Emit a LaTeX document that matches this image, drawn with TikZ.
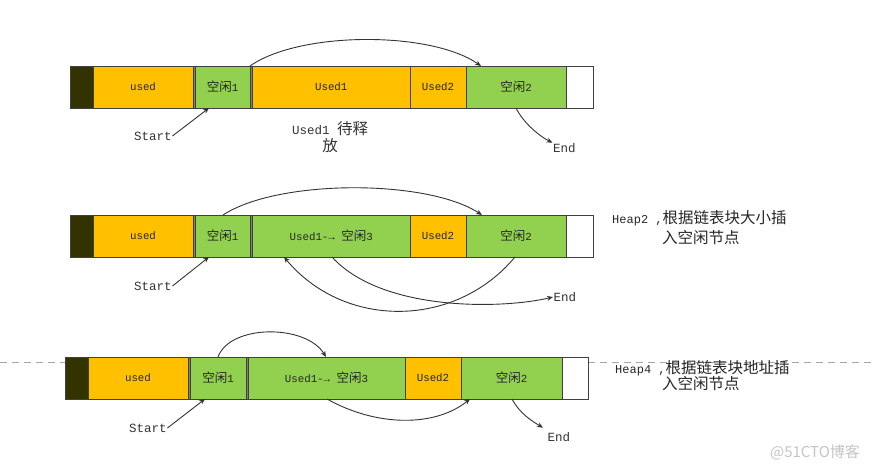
\documentclass[tikz,border=0pt]{standalone}
\usepackage{fontspec}
\setmonofont{Liberation Mono}
\newfontfamily\cjk{Noto Sans CJK SC}
\usetikzlibrary{arrows.meta,calc}
\definecolor{dk}{HTML}{333300}
\definecolor{og}{HTML}{FFC000}
\definecolor{gn}{HTML}{92D050}
\definecolor{bd}{HTML}{404040}
\definecolor{sepg}{HTML}{808080}
\definecolor{ln}{HTML}{333333}
\definecolor{wm}{HTML}{C4C4C4}
\definecolor{dsh}{HTML}{A6A6A6}
\newcommand\zhs[1]{{\cjk\fontsize{12.5}{17}\selectfont #1}}
\newcommand\zhl[1]{{\cjk\fontsize{15.5}{17}\selectfont #1}}
\tikzset{
  cell/.style={draw=bd, line width=1pt, inner sep=0pt, outer sep=0pt, anchor=north west,
    minimum height=42pt, font=\ttfamily\fontsize{10.8}{13}\selectfont, text=black!85},
  sepcell/.style={cell, fill=sepg, draw=bd, line width=0.4pt},
  lbl/.style={font=\ttfamily\fontsize{12.5}{17}\selectfont, inner sep=0.5pt, text=ln},
  note/.style={font=\ttfamily\fontsize{12}{17}\selectfont, inner sep=0pt, anchor=west, text=black!85},
  arr/.style={draw=ln, line width=0.9pt, -{Stealth[length=6pt,width=5pt]}},
}
\begin{document}
\begin{tikzpicture}[x=1pt,y=-1pt]
\useasboundingbox (0,0) rectangle (875,471);
% dashed separator behind row 3
\coordinate (dl) at (0,362);
\coordinate (dr) at (875,362);
\draw[dsh, line width=0.8pt, dash pattern=on 7pt off 5pt] (dl) -- (dr);

% ---------- row 1 ----------
\node[cell,fill=dk,minimum width=23pt]  (a0) at (70,66) {};
\node[cell,fill=og,minimum width=100pt] (a1) at (93,66) {used};
\node[sepcell,minimum width=2pt]        (a2) at (193,66) {};
\node[cell,fill=gn,minimum width=55pt]  (a3) at (195,66) {\zhs{空闲}1};
\node[sepcell,minimum width=2.5pt]      (a4) at (250,66) {};
\node[cell,fill=og,minimum width=157.5pt] (a5) at (252.5,66) {Used1};
\node[cell,fill=og,minimum width=56pt]  (a6) at (410,66) {Used2};
\node[cell,fill=gn,minimum width=100pt] (a7) at (466,66) {\zhs{空闲}2};
\node[cell,fill=white,minimum width=27pt] (a8) at (566,66) {};

\node[lbl] (s1) at (153,136) {Start};
\node[lbl,align=center] (u1) at (330,137) {Used1 \zhl{待释}\\\zhl{放}};
\node[lbl,anchor=west] (e1) at (552.5,148) {End};

\draw[arr] (a3.north east) .. controls +(50,-35) and +(-50,-35) .. ([xshift=15pt]a7.north west);
\draw[arr] (s1.east) -- ([xshift=14pt]a3.south west);
\draw[arr] ([xshift=50pt]a7.south west) .. controls +(8,16) and +(-12,-6) .. (e1.north west);

% ---------- row 2 ----------
\node[cell,fill=dk,minimum width=23pt]  (b0) at (70,215) {};
\node[cell,fill=og,minimum width=100pt] (b1) at (93,215) {used};
\node[sepcell,minimum width=2pt]        (b2) at (193,215) {};
\node[cell,fill=gn,minimum width=55pt]  (b3) at (195,215) {\zhs{空闲}1};
\node[sepcell,minimum width=2.5pt]      (b4) at (250,215) {};
\node[cell,fill=gn,minimum width=157.5pt] (b5) at (252.5,215) {Used1-→ \zhs{空闲}3};
\node[cell,fill=og,minimum width=56pt]  (b6) at (410,215) {Used2};
\node[cell,fill=gn,minimum width=100pt] (b7) at (466,215) {\zhs{空闲}2};
\node[cell,fill=white,minimum width=27pt] (b8) at (566,215) {};

\node[lbl] (s2) at (153,286) {Start};
\node[lbl,anchor=west] (e2) at (553,297) {End};
\node[note] (h2a) at (612,218) {Heap2 ,\zhl{根据链表块大小插}};
\node[note] (h2b) at (662,238) {\zhl{入空闲节点}};

\draw[arr] ([xshift=28pt]b3.north west) .. controls +(55,-36) and +(-55,-36) .. ([xshift=16pt]b7.north west);
\draw[arr] ([xshift=49pt]b7.south west) .. controls +(-60,72) and +(60,72) .. ([xshift=31.5pt]b5.south west);
\draw[arr] ([xshift=79.5pt]b5.south west) .. controls +(50,55) and +(-50,12) .. (e2.west);
\draw[arr] (s2.east) -- ([xshift=14pt]b3.south west);

% ---------- row 3 ----------
\node[cell,fill=dk,minimum width=23pt]  (c0) at (65,357) {};
\node[cell,fill=og,minimum width=100pt] (c1) at (88,357) {used};
\node[sepcell,minimum width=2pt]        (c2) at (188,357) {};
\node[cell,fill=gn,minimum width=56pt]  (c3) at (190,357) {\zhs{空闲}1};
\node[sepcell,minimum width=2pt]        (c4) at (246,357) {};
\node[cell,fill=gn,minimum width=157pt] (c5) at (248,357) {Used1-→ \zhs{空闲}3};
\node[cell,fill=og,minimum width=56pt]  (c6) at (405,357) {Used2};
\node[cell,fill=gn,minimum width=101pt] (c7) at (461,357) {\zhs{空闲}2};
\node[cell,fill=white,minimum width=26pt] (c8) at (562,357) {};

\node[lbl] (s3) at (148,428) {Start};
\node[lbl,anchor=west] (e3) at (547,437) {End};
\node[note] (h4a) at (615,368) {Heap4 ,\zhl{根据链表块地址插}};
\node[note] (h4b) at (662,384) {\zhl{入空闲节点}};

\draw[arr] ([xshift=28pt]c3.north west) .. controls +(12,-33) and +(-20,-33) .. ([xshift=78pt]c5.north west);
\draw[arr] ([xshift=79pt]c5.south west) .. controls +(50,28) and +(-35,28) .. ([xshift=9pt]c7.south west);
\draw[arr] ([xshift=51pt]c7.south west) .. controls +(8,15) and +(-10,-6) .. ($(e3.north west)+(-4,-4)$);
\draw[arr] (s3.east) -- ([xshift=15pt]c3.south west);

% watermark
\node[font=\cjk\fontsize{15}{17}\selectfont, text=wm, inner sep=0pt] (wmk) at (815,452) {@51CTO博客};
\end{tikzpicture}
\end{document}
